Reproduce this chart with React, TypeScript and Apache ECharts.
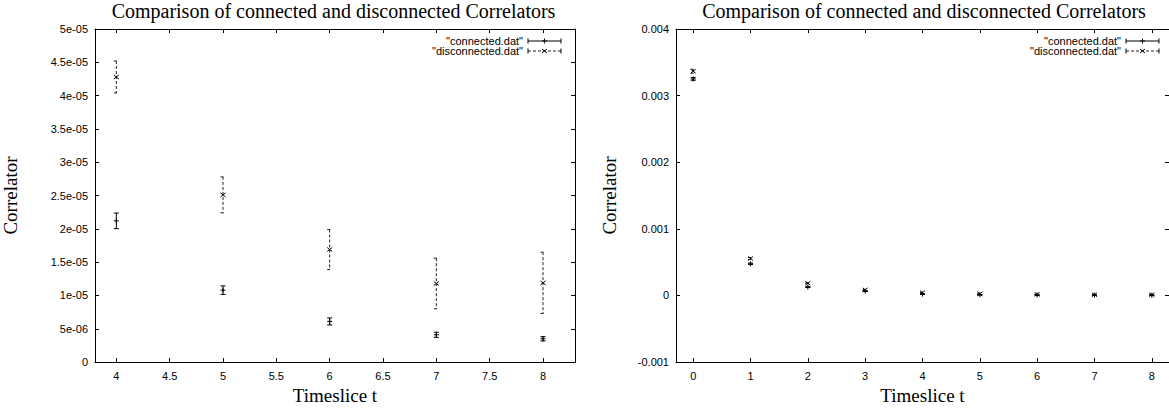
import React, { useEffect, useRef } from 'react';
import * as echarts from 'echarts';

// ---- data ----
const timeslices = [0, 1, 2, 3, 4, 5, 6, 7, 8];
const connectedVal = [3.25e-3, 4.76e-4, 1.26e-4, 6.5e-5, 2.12e-5, 1.08e-5, 6.1e-6, 4.1e-6, 3.5e-6];
const connectedErr = [2.0e-5, 1.0e-5, 5.0e-6, 2.5e-6, 1.17e-6, 6.4e-7, 5.3e-7, 3.9e-7, 3.2e-7];
const disconnectedVal = [3.366e-3, 5.55e-4, 1.84e-4, 8.5e-5, 4.28e-5, 2.51e-5, 1.69e-5, 1.18e-5, 1.19e-5];
const disconnectedErr = [3.0e-5, 1.5e-5, 8.0e-6, 4.0e-6, 2.4e-6, 2.7e-6, 3.0e-6, 3.8e-6, 4.6e-6];

const leftXTicks = [4, 4.5, 5, 5.5, 6, 6.5, 7, 7.5, 8];
const rightXTicks = [0, 1, 2, 3, 4, 5, 6, 7, 8];

const titleText = 'Comparison of connected and disconnected Correlators';
const xName = 'Timeslice t';
const yName = 'Correlator';
const legendNames = ['"connected.dat"', '"disconnected.dat"'];

const SANS = '"Liberation Sans", Arial, Helvetica, sans-serif';
const SERIF = '"Liberation Serif", "Times New Roman", serif';

function gpFormat(v: number): string {
  if (Math.abs(v) < 1e-15) return '0';
  let e = Math.floor(Math.log10(Math.abs(v)) + 1e-9);
  if (e < -4) {
    let m = parseFloat((v / Math.pow(10, e)).toPrecision(6));
    if (Math.abs(m) >= 10) { m = m / 10; e += 1; }
    const ae = Math.abs(e);
    return `${m}e${e < 0 ? '-' : '+'}${ae < 10 ? '0' + ae : ae}`;
  }
  return String(parseFloat(v.toPrecision(6)));
}

function buildData(vals: number[], errs: number[], xmin: number, xmax: number) {
  const out: number[][] = [];
  timeslices.forEach((t, i) => {
    if (t >= xmin && t <= xmax) out.push([t, vals[i], vals[i] - errs[i], vals[i] + errs[i]]);
  });
  return out;
}

function makeRenderItem(kind: 'plus' | 'cross', dashed: boolean) {
  return (params: any, api: any) => {
    const x = api.value(0);
    const p = api.coord([x, api.value(1)]);
    const pl = api.coord([x, api.value(2)]);
    const ph = api.coord([x, api.value(3)]);
    const barStyle: any = { stroke: dashed ? '#222' : '#000', lineWidth: 1, fill: 'none' };
    if (dashed) barStyle.lineDash = [3, 2];
    const cw = 2.5;
    const m = 2.5;
    const mStyle = { stroke: '#000', lineWidth: 1, fill: 'none' };
    const children: any[] = [
      { type: 'line', shape: { x1: p[0], y1: ph[1], x2: p[0], y2: pl[1] }, style: barStyle },
      { type: 'line', shape: { x1: p[0] - cw, y1: ph[1], x2: p[0] + cw, y2: ph[1] }, style: barStyle },
      { type: 'line', shape: { x1: p[0] - cw, y1: pl[1], x2: p[0] + cw, y2: pl[1] }, style: barStyle },
    ];
    if (kind === 'plus') {
      children.push({ type: 'line', shape: { x1: p[0] - m, y1: p[1], x2: p[0] + m, y2: p[1] }, style: mStyle });
      children.push({ type: 'line', shape: { x1: p[0], y1: p[1] - m, x2: p[0], y2: p[1] + m }, style: mStyle });
    } else {
      children.push({ type: 'line', shape: { x1: p[0] - m, y1: p[1] - m * 0.8, x2: p[0] + m, y2: p[1] + m * 0.8 }, style: mStyle });
      children.push({ type: 'line', shape: { x1: p[0] - m, y1: p[1] + m * 0.8, x2: p[0] + m, y2: p[1] - m * 0.8 }, style: mStyle });
    }
    return { type: 'group', children };
  };
}

function legendGraphics(textRight: number, x0: number, x1: number, y1: number, y2: number) {
  const els: any[] = [];
  const rows = [
    { y: y1, dashed: false, kind: 'plus', name: legendNames[0] },
    { y: y2, dashed: true, kind: 'cross', name: legendNames[1] },
  ];
  rows.forEach((r) => {
    els.push({
      type: 'text', x: textRight, y: r.y,
      style: { text: r.name, fontSize: 11, fontFamily: SANS, fill: '#000', textAlign: 'right', textVerticalAlign: 'middle' },
    });
    const st: any = { stroke: r.dashed ? '#222' : '#000', lineWidth: 1 };
    if (r.dashed) st.lineDash = [3, 2];
    els.push({ type: 'line', shape: { x1: x0, y1: r.y, x2: x1, y2: r.y }, style: st });
    els.push({ type: 'line', shape: { x1: x0, y1: r.y - 2.5, x2: x0, y2: r.y + 2.5 }, style: { stroke: '#000', lineWidth: 1 } });
    els.push({ type: 'line', shape: { x1: x1, y1: r.y - 2.5, x2: x1, y2: r.y + 2.5 }, style: { stroke: '#000', lineWidth: 1 } });
    const cx = (x0 + x1) / 2;
    const ms = { stroke: '#000', lineWidth: 1 };
    if (r.kind === 'plus') {
      els.push({ type: 'line', shape: { x1: cx - 2.5, y1: r.y, x2: cx + 2.5, y2: r.y }, style: ms });
      els.push({ type: 'line', shape: { x1: cx, y1: r.y - 2.5, x2: cx, y2: r.y + 2.5 }, style: ms });
    } else {
      els.push({ type: 'line', shape: { x1: cx - 2.5, y1: r.y - 2, x2: cx + 2.5, y2: r.y + 2 }, style: ms });
      els.push({ type: 'line', shape: { x1: cx - 2.5, y1: r.y + 2, x2: cx + 2.5, y2: r.y - 2 }, style: ms });
    }
  });
  return els;
}

const axisLineStyle = { show: true, onZero: false, lineStyle: { color: '#000', width: 1 } };

function xAxes(gridIndex: number, min: number, max: number, ticks: number[]) {
  const tick = { show: true, inside: true, length: 4, customValues: ticks, lineStyle: { color: '#000', width: 1 } };
  return [
    {
      gridIndex, type: 'value', position: 'bottom', min, max,
      axisLine: axisLineStyle, axisTick: tick,
      axisLabel: { customValues: ticks, color: '#000', fontSize: 11, fontFamily: SANS, margin: 8 },
      splitLine: { show: false },
      name: xName, nameLocation: 'middle', nameGap: 15,
      nameTextStyle: { color: '#000', fontSize: 19, fontFamily: SERIF },
    },
    {
      gridIndex, type: 'value', position: 'top', min, max,
      axisLine: axisLineStyle, axisTick: tick,
      axisLabel: { show: false }, splitLine: { show: false },
    },
  ];
}

function yAxes(gridIndex: number, min: number, max: number, interval: number, nameGap: number) {
  const tick = { show: true, inside: true, length: 4, lineStyle: { color: '#000', width: 1 } };
  return [
    {
      gridIndex, type: 'value', position: 'left', min, max, interval,
      axisLine: axisLineStyle, axisTick: tick,
      axisLabel: { color: '#000', fontSize: 11, fontFamily: SANS, margin: 7, formatter: (v: number) => gpFormat(v) },
      splitLine: { show: false },
      name: yName, nameLocation: 'middle', nameGap, nameRotate: 90,
      nameTextStyle: { color: '#000', fontSize: 19, fontFamily: SERIF },
    },
    {
      gridIndex, type: 'value', position: 'right', min, max, interval,
      axisLine: axisLineStyle, axisTick: tick,
      axisLabel: { show: false }, splitLine: { show: false },
    },
  ];
}

export default function App() {
  const ref = useRef<HTMLDivElement>(null);
  useEffect(() => {
    if (!ref.current) return;
    const chart = echarts.init(ref.current, null, { renderer: 'svg' });
    const L = { left: 92, top: 29, width: 483, height: 342.5 };
    const R = { left: 676, top: 29, width: 496, height: 342.5 };
    const leftXMin = 3.8, leftXMax = 8.3, rightXMin = -0.3, rightXMax = 8.3;

    const option: any = {
      animation: false,
      backgroundColor: '#fff',
      grid: [
        { left: L.left, top: L.top, width: L.width, height: L.height, containLabel: false },
        { left: R.left, top: R.top, width: R.width, height: R.height, containLabel: false },
      ],
      xAxis: [
        ...xAxes(0, leftXMin, leftXMax, leftXTicks),
        ...xAxes(1, rightXMin, rightXMax, rightXTicks),
      ],
      yAxis: [
        ...yAxes(0, 0, 5e-5, 5e-6, 75),
        ...yAxes(1, -0.001, 0.004, 0.001, 57),
      ],
      series: [
        { type: 'custom', name: 'connected', xAxisIndex: 0, yAxisIndex: 0, clip: true,
          renderItem: makeRenderItem('plus', false), data: buildData(connectedVal, connectedErr, leftXMin, leftXMax) },
        { type: 'custom', name: 'disconnected', xAxisIndex: 0, yAxisIndex: 0, clip: true,
          renderItem: makeRenderItem('cross', true), data: buildData(disconnectedVal, disconnectedErr, leftXMin, leftXMax) },
        { type: 'custom', name: 'connected', xAxisIndex: 2, yAxisIndex: 2, clip: true,
          renderItem: makeRenderItem('plus', false), data: buildData(connectedVal, connectedErr, rightXMin, rightXMax) },
        { type: 'custom', name: 'disconnected', xAxisIndex: 2, yAxisIndex: 2, clip: true,
          renderItem: makeRenderItem('cross', true), data: buildData(disconnectedVal, disconnectedErr, rightXMin, rightXMax) },
      ],
      graphic: [
        { type: 'text', x: L.left + L.width / 2, y: 11,
          style: { text: titleText, fontSize: 20, fontFamily: SERIF, fill: '#000', textAlign: 'center', textVerticalAlign: 'middle' } },
        { type: 'text', x: R.left + R.width / 2, y: 11,
          style: { text: titleText, fontSize: 20, fontFamily: SERIF, fill: '#000', textAlign: 'center', textVerticalAlign: 'middle' } },
        ...legendGraphics(523, 528, 561, 41, 51),
        ...legendGraphics(1121, 1126, 1159, 41, 51),
      ],
    };
    chart.setOption(option);
    return () => chart.dispose();
  }, []);
  return <div ref={ref} style={{ position: 'absolute', left: 0, top: 0, width: 1169, height: 410 }} />;
}
